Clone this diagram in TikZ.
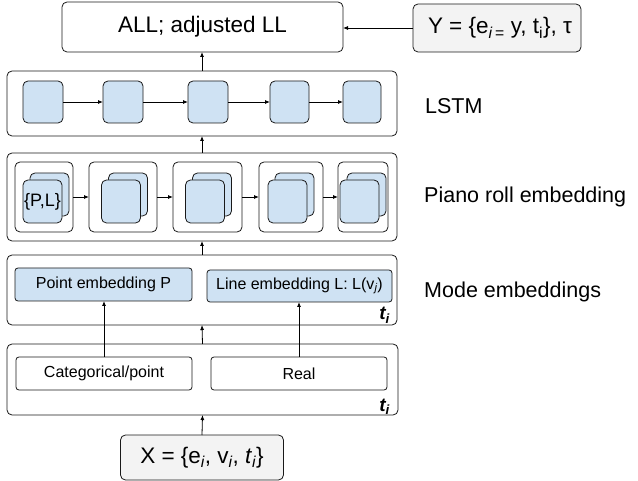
\documentclass[tikz,border=0pt]{standalone}
\usepackage{fontspec}
\setmainfont{Liberation Sans}
\usetikzlibrary{arrows.meta}
\definecolor{cellblue}{HTML}{CFE2F3}
\definecolor{inputgray}{HTML}{F3F3F3}
\newcommand{\lowi}[1]{\textsubscript{\itshape #1}}

\begin{document}
\begin{tikzpicture}[x=1pt,y=-1pt,
    box/.style={draw=black!90, line width=0.8pt, rounded corners=5pt, inner sep=0pt, outer sep=0pt},
    cell/.style={box, fill=cellblue},
    inbox/.style={box, fill=inputgray},
    big/.style={font=\fontsize{22.5}{26}\selectfont},
    side/.style={font=\fontsize{21.5}{25}\selectfont, anchor=west, inner sep=0pt},
    small/.style={font=\fontsize{16}{19}\selectfont},
    tlabel/.style={font=\fontsize{19}{22}\selectfont\bfseries\itshape, inner sep=0pt, anchor=base east},
    arr/.style={-{Latex[length=5pt,width=4pt]}, line width=0.8pt}]
  \useasboundingbox (0,0) rectangle (638,481);

  % output and targets
  \node[box, big, minimum width=281pt, minimum height=50pt] (all) at (202.5,27) {ALL; adjusted LL};
  \node[inbox, big, minimum width=168pt, minimum height=48pt] (yset) at (497,28)
    {\hspace{6pt}Y = \{e\lowi{i\,=} y, t\textsubscript{i}\}, τ};
  \draw[arr] (yset.west) -- (all.east |- yset.west);

  % LSTM
  \node[box, minimum width=390pt, minimum height=65pt] (lstm) at (202,103.5) {};
  \foreach \i/\cx/\cw in {1/43/40, 2/123/40, 3/208/40, 4/289.5/39, 5/362/38}
    \node[cell, minimum width=\cw pt, minimum height=42pt] (cell\i) at (\cx,102) {};
  \foreach \a/\b in {1/2, 2/3, 3/4, 4/5}
    \draw[arr] (cell\a) -- (cell\b);
  \node[side] (lstmlabel) at (425,106) {LSTM};
  \draw[arr] (lstm.north) -- (all.south -| lstm.north);

  % piano roll
  \node[box, minimum width=390pt, minimum height=88pt] (piano) at (202,197) {};
  \foreach \i/\fx/\fw/\sx in {1/44/58/42.5, 2/123/68/121, 3/207.5/69/205, 4/291/64/287.5, 5/363/50/359.5} {
    \node[box, minimum width=\fw pt, minimum height=70pt] (frame\i) at (\fx,197) {};
    \node[cell, minimum width=39pt, minimum height=43pt] (back\i) at (\sx+7,194.5) {};
    \node[cell, minimum width=39pt, minimum height=43pt] (front\i) at (\sx,201.5) {};
  }
  \node[font=\fontsize{18}{21}\selectfont, inner sep=0pt] (pl) at (front1) {\{P,L\}};
  \foreach \a/\b in {1/2, 2/3, 3/4, 4/5}
    \draw[arr] (frame\a) -- (frame\b);
  \node[side] (pianolabel) at (424,197) {Piano roll embedding};
  \draw[arr] (piano.north) -- (lstm.south);

  % mode embeddings
  \node[box, minimum width=390pt, minimum height=70pt] (mode) at (202,290) {};
  \node[cell, small, rounded corners=3pt, minimum width=177pt, minimum height=33pt] (point) at (103.5,284.5) {Point embedding P};
  \node[cell, small, rounded corners=3pt, minimum width=185pt, minimum height=32pt] (line) at (299.5,286) {Line embedding L: L(v\lowi{j})};
  \node[tlabel] (tmode) at (390,320) {t\textsubscript{i}};
  \node[side] (modelabel) at (424,292) {Mode embeddings};
  \draw[arr] (mode.north) -- (piano.south);

  % input types
  \node[box, minimum width=391pt, minimum height=71pt] (types) at (202.5,379.5) {};
  \node[box, small, rounded corners=3pt, minimum width=176pt, minimum height=33pt] (cat) at (104,373.5) {Categorical/point};
  \node[box, small, rounded corners=3pt, minimum width=176pt, minimum height=33pt] (real) at (299,373.5) {Real};
  \node[tlabel] (ttypes) at (390,411) {t\textsubscript{i}};
  \draw[arr] (cat.north) -- (point.south -| cat.north);
  \draw[arr] (real.north) -- (line.south -| real.north);
  \draw[arr] (types.north) -- (mode.south);

  % input
  \node[inbox, big, minimum width=163pt, minimum height=45pt] (xset) at (202,457.5)
    {X = \{e\lowi{i}, v\lowi{i}, \textit{t}\lowi{i}\}};
  \draw[arr] (xset.north) -- (types.south);
\end{tikzpicture}
\end{document}
